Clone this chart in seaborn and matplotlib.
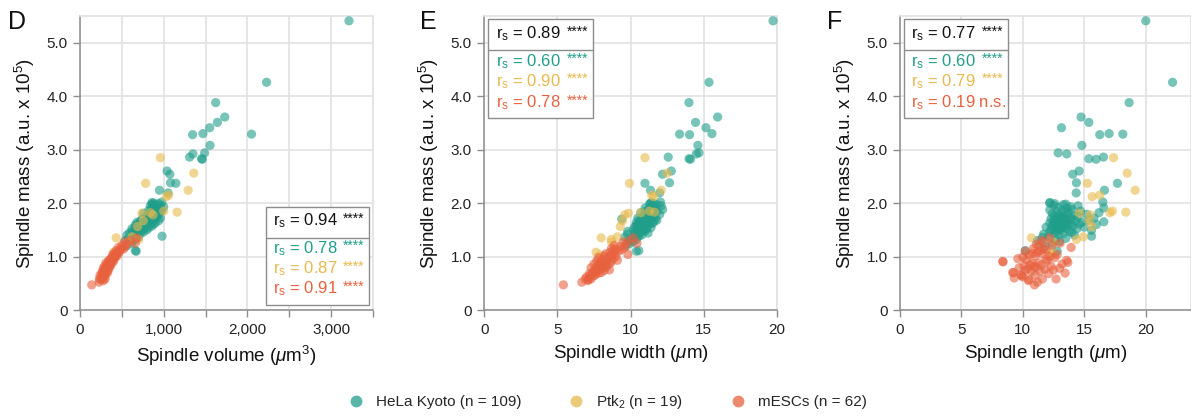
#!/usr/bin/env python3

import pandas
import seaborn as sns
import matplotlib.pyplot as plt
from matplotlib.patches import Rectangle
from matplotlib.lines import Line2D
from matplotlib.ticker import MultipleLocator, FuncFormatter

sns.set_style("ticks")
plt.rcParams["font.family"] = ["Liberation Sans", "DejaVu Sans"]
plt.rcParams["mathtext.fontset"] = "custom"
plt.rcParams["mathtext.rm"] = "Liberation Sans"
plt.rcParams["mathtext.it"] = "Liberation Sans:italic"

# HeLa Kyoto (n = 109): mass (a.u. x 10^5), volume (um^3), width (um), length (um)
hela_mass = [
    5.41, 4.26, 3.88, 3.61, 3.51, 3.41, 3.30, 3.29, 3.28, 3.08,
    2.94, 2.92, 2.86, 2.83, 2.82, 2.60, 2.54, 2.38, 2.37, 2.24,
    2.19, 2.02, 2.01, 1.38, 1.11, 1.10,
    1.20, 1.25, 1.28, 1.30, 1.32, 1.34, 1.36, 1.38, 1.40, 1.41,
    1.42, 1.43, 1.44, 1.45, 1.46, 1.47, 1.48, 1.49, 1.50, 1.50,
    1.51, 1.52, 1.52, 1.53, 1.54, 1.55, 1.55, 1.56, 1.57, 1.57,
    1.58, 1.58, 1.59, 1.60, 1.60, 1.61, 1.61, 1.62, 1.62, 1.63,
    1.63, 1.64, 1.64, 1.65, 1.65, 1.66, 1.67, 1.67, 1.68, 1.68,
    1.69, 1.70, 1.70, 1.71, 1.72, 1.72, 1.73, 1.74, 1.75, 1.75,
    1.76, 1.77, 1.78, 1.79, 1.80, 1.81, 1.82, 1.83, 1.84, 1.85,
    1.86, 1.87, 1.88, 1.90, 1.91, 1.92, 1.93, 1.95, 1.96, 1.97,
    1.98, 1.99, 2.00,
]
hela_volume = [
    3213, 2229, 1621, 1729, 1641, 1549, 1469, 2049, 1345, 1553,
    1489, 1349, 1309, 1453, 1460, 1040, 1073, 1081, 1145, 949,
    1052, 977, 860, 980, 661, 672,
    560, 620, 600, 540, 650, 580, 700, 620, 560, 680,
    640, 720, 590, 680, 760, 620, 700, 740, 660, 800,
    700, 620, 760, 680, 820, 740, 660, 780, 700, 860,
    720, 800, 660, 760, 840, 700, 880, 780, 740, 820,
    900, 760, 680, 840, 800, 720, 860, 940, 780, 820,
    880, 740, 800, 900, 840, 960, 780, 860, 820, 920,
    880, 800, 940, 860, 900, 760, 840, 960, 880, 920,
    820, 980, 900, 860, 940, 880, 1000, 840, 960, 900,
    860, 940, 880,
]
hela_width = [
    19.75, 15.37, 14.0, 15.96, 14.45, 15.16, 15.57, 13.36, 14.04, 14.61,
    14.68, 14.5, 12.58, 14.0, 14.1, 12.79, 12.19, 12.67, 10.99, 11.37,
    11.99, 12.05, 11.4, 10.5, 10.57, 10.4,
    9.7, 10.0, 10.2, 9.9, 10.4, 10.1, 9.6, 10.6, 10.3, 10.8,
    9.8, 10.5, 11.2, 10.3, 10.7, 9.8, 11.0, 10.4, 10.9, 10.6,
    10.2, 11.1, 10.5, 10.8, 11.4, 10.6, 10.9, 10.3, 11.0, 10.7,
    10.4, 11.2, 10.8, 10.5, 11.0, 10.9, 11.3, 10.6, 11.5, 10.7,
    10.8, 11.1, 10.4, 11.0, 11.6, 10.7, 11.2, 10.9, 11.8, 10.6,
    11.3, 10.8, 9.4, 11.7, 10.5, 11.4, 11.1, 10.9, 11.6, 11.2,
    11.5, 10.9, 11.3, 12.0, 11.1, 11.6, 10.7, 11.4, 11.8, 11.0,
    11.2, 11.6, 12.2, 11.3, 11.0, 11.7, 11.4, 12.1, 11.5, 11.8,
    11.3, 11.6, 11.4,
]
hela_length = [
    20.02, 22.2, 18.66, 14.75, 15.38, 13.15, 17.03, 18.15, 16.27, 14.81,
    12.88, 13.58, 16.57, 15.38, 15.97, 14.59, 14.07, 14.37, 17.71, 16.65,
    14.35, 16.52, 12.2, 15.6, 10.2, 12.8,
    11.8, 12.4, 13.0, 11.2, 12.7, 13.5, 11.6, 12.1, 14.2, 12.9,
    11.7, 13.3, 12.6, 14.0, 12.2, 13.8, 12.8, 15.6, 13.1, 12.5,
    12.3, 13.6, 14.4, 12.9, 13.2, 11.9, 15.0, 13.4, 12.7, 14.1,
    13.0, 12.4, 13.7, 16.0, 12.8, 13.3, 14.6, 12.6, 13.9, 13.1,
    12.2, 14.8, 13.5, 12.9, 16.6, 13.2, 12.5, 14.3, 13.6, 15.4,
    12.7, 13.4, 14.0, 12.3, 15.8, 13.1, 13.8, 12.9, 14.5, 13.3,
    12.6, 14.2, 13.0, 15.2, 12.4, 13.7, 16.2, 13.5, 12.8, 14.7,
    13.2, 12.2, 14.0, 13.6, 16.6, 12.9, 13.9, 14.5, 12.5, 13.3,
    13.5, 12.6, 12.2,
]

# Ptk2 (n = 19)
ptk_mass = [2.85, 2.56, 2.37, 2.24, 2.15, 2.12, 1.85, 1.83, 1.82, 1.81,
            1.78, 1.67, 1.56, 1.37, 1.35, 1.32, 1.27, 1.08, 1.03]
ptk_volume = [960, 1360, 784, 1292, 1060, 1032, 1000, 1160, 840, 740,
              872, 756, 688, 620, 432, 700, 580, 400, 420]
ptk_width = [10.99, 12.5, 9.93, 12.1, 11.46, 11.58, 11.3, 11.64, 10.71, 9.86,
             9.6, 9.45, 9.3, 9.1, 7.99, 8.68, 8.7, 7.65, 7.9]
ptk_length = [17.39, 18.5, 15.26, 19.15, 16.27, 15.65, 17.3, 18.39, 17.1, 14.61,
              15.5, 15.4, 15.6, 14.94, 10.7, 14.37, 12.5, 12.3, 12.4]

# mESCs (n = 62)
mesc_mass = [
    0.47, 0.52, 0.55, 0.57, 0.58, 0.58, 0.60, 0.62, 0.64, 0.65,
    0.66, 0.68, 0.69, 0.70, 0.70, 0.72, 0.73, 0.74, 0.75, 0.76,
    0.77, 0.78, 0.79, 0.80, 0.81, 0.82, 0.83, 0.84, 0.85, 0.86,
    0.87, 0.88, 0.89, 0.90, 0.91, 0.92, 0.93, 0.94, 0.95, 0.96,
    0.98, 0.99, 1.00, 1.01, 1.03, 1.04, 1.05, 1.06, 1.08, 1.10,
    1.11, 1.13, 1.14, 1.15, 1.17, 1.19, 1.21, 1.23, 1.25, 1.27,
    1.30, 1.35,
]
mesc_volume = [
    140, 228, 280, 250, 300, 230, 270, 260, 300, 240,
    280, 310, 260, 290, 330, 300, 270, 320, 340, 290,
    310, 330, 280, 350, 320, 360, 300, 340, 370, 330,
    360, 310, 380, 350, 400, 340, 370, 390, 360, 410,
    380, 420, 400, 440, 390, 430, 460, 410, 450, 470,
    430, 480, 520, 500, 460, 540, 500, 560, 660, 530,
    600, 680,
]
mesc_width = [
    5.41, 6.67, 7.08, 7.10, 7.3, 6.9, 7.2, 7.0, 7.5, 7.3,
    7.6, 7.2, 7.8, 7.4, 8.0, 7.5, 7.7, 8.2, 8.56, 7.6,
    7.9, 8.1, 7.3, 8.3, 7.7, 8.0, 8.4, 7.8, 8.2, 7.5,
    8.6, 7.9, 8.3, 8.0, 8.7, 7.7, 9.1, 8.4, 8.1, 8.8,
    7.8, 8.5, 9.0, 8.2, 8.7, 9.82, 8.3, 8.9, 8.6, 9.2,
    8.8, 9.4, 9.0, 8.7, 9.6, 9.3, 8.9, 9.7, 10.44, 9.5,
    9.9, 10.2,
]
mesc_length = [
    10.95, 11.2, 10.46, 10.5, 12.71, 11.6, 9.3, 10.0, 9.9, 11.0,
    9.86, 12.1, 13.45, 9.24, 9.18, 10.7, 11.4, 10.2, 12.5, 11.8,
    10.4, 13.0, 9.7, 11.1, 10.9, 12.3, 10.1, 11.5, 10.6, 13.2,
    10.8, 11.3, 13.67, 8.39, 8.37, 12.0, 13.58, 10.3, 11.9, 9.6,
    12.6, 10.0, 12.2, 11.0, 10.5, 12.8, 11.6, 10.8, 11.2, 10.2,
    11.4, 11.9, 11.7, 10.87, 13.94, 11.3, 12.4, 11.1, 13.04, 11.7,
    11.5, 12.2,
]

groups = ["HeLa Kyoto", "Ptk2", "mESCs"]
legend_labels = ["HeLa Kyoto (n = 109)", "Ptk$_2$ (n = 19)", "mESCs (n = 62)"]
colors = {"HeLa Kyoto": "#1f9e8a", "Ptk2": "#e8b94c", "mESCs": "#e8613f"}

# Spearman r per panel (D, E, F)
panel_letters = ["D", "E", "F"]
rs_all = [0.94, 0.89, 0.77]
rs_hela = [0.78, 0.60, 0.60]
rs_ptk = [0.87, 0.90, 0.79]
rs_mesc = [0.91, 0.78, 0.19]
sig_mesc = ["****", "****", "n.s."]


def build_frame():
    rows = []
    for name, mass, vol, wid, length in [
        ("HeLa Kyoto", hela_mass, hela_volume, hela_width, hela_length),
        ("Ptk2", ptk_mass, ptk_volume, ptk_width, ptk_length),
        ("mESCs", mesc_mass, mesc_volume, mesc_width, mesc_length),
    ]:
        for m, v, w, l in zip(mass, vol, wid, length):
            rows.append([name, m, v, w, l])
    return pandas.DataFrame(rows, columns=["group", "mass", "volume", "width", "length"])


def stats_box(ax, i, x0, x1, top, divider, bottom, rows_y):
    ax.add_patch(Rectangle((x0, bottom), x1 - x0, top - bottom, transform=ax.transAxes,
                           facecolor="white", edgecolor="#8c8c8c", lw=1, zorder=5))
    ax.plot([x0, x1], [divider, divider], transform=ax.transAxes, color="#8c8c8c",
            lw=1, zorder=6)
    entries = [
        ("#111111", rs_all[i], "****"),
        (colors["HeLa Kyoto"], rs_hela[i], "****"),
        (colors["Ptk2"], rs_ptk[i], "****"),
        (colors["mESCs"], rs_mesc[i], sig_mesc[i]),
    ]
    for (col, r, sig), y in zip(entries, rows_y):
        if sig == "****":
            ax.text(x0 + 0.025, y, "r$_\\mathrm{s}$ = %.2f" % r, transform=ax.transAxes,
                    color=col, fontsize=12, va="center", ha="left", zorder=7)
            ax.text(x1 - 0.015, y + 0.008, sig, transform=ax.transAxes, color=col,
                    fontsize=10, va="center", ha="right", zorder=7)
        else:
            ax.text(x0 + 0.025, y, "r$_\\mathrm{s}$ = %.2f %s" % (r, sig),
                    transform=ax.transAxes, color=col, fontsize=12, va="center",
                    ha="left", zorder=7)


def main():
    df = build_frame()
    fig = plt.figure(figsize=(11.91, 4.17), dpi=100)
    W, H = 1191.0, 417.0
    bottom, height = (417 - 310) / H, 294 / H
    lefts = [80 / W, 484.3 / W, 900 / W]
    widths = [293 / W, 292.4 / W, 291 / W]
    xcols = ["volume", "width", "length"]
    xlabels = ["Spindle volume ($\\mathit{\\mu}$m$^3$)", "Spindle width ($\\mathit{\\mu}$m)",
               "Spindle length ($\\mathit{\\mu}$m)"]
    xlims = [(0, 3500), (0, 20), (0, 23.7)]
    xsteps = [500, 5, 5]
    letter_x = [8, 420, 827]

    for i in range(3):
        ax = fig.add_axes([lefts[i], bottom, widths[i], height])
        ax.set_axisbelow(True)
        ax.grid(True, color="#e2e2e2", lw=1.2)
        sns.scatterplot(data=df, x=xcols[i], y="mass", hue="group", hue_order=groups,
                        palette=colors, s=44, alpha=0.6, linewidth=0, legend=False,
                        ax=ax, zorder=3, clip_on=False)
        ax.set_xlim(*xlims[i])
        ax.set_ylim(0, 5.5)
        ax.xaxis.set_major_locator(MultipleLocator(xsteps[i]))
        ax.yaxis.set_major_locator(MultipleLocator(1.0))
        if i == 0:
            ax.xaxis.set_major_formatter(FuncFormatter(
                lambda v, p: ("0" if v == 0 else f"{int(v):,}") if v % 1000 == 0 else ""))
        else:
            ax.xaxis.set_major_formatter(FuncFormatter(lambda v, p: f"{int(v)}"))
        ax.yaxis.set_major_formatter(FuncFormatter(lambda v, p: "0" if v == 0 else f"{v:.1f}"))
        ax.tick_params(direction="out", length=5, width=1, color="#8c8c8c",
                       labelsize=11, labelcolor="#222222", pad=4)
        for side in ["left", "bottom"]:
            ax.spines[side].set_color("#8c8c8c")
            ax.spines[side].set_linewidth(1.1)
        for side in ["top", "right"]:
            ax.spines[side].set_color("#e2e2e2")
            ax.spines[side].set_linewidth(1.2)
        ax.set_xlabel(xlabels[i], fontsize=13.5, color="#111111", labelpad=5)
        ax.set_ylabel("Spindle mass (a.u. x 10$^5$)", fontsize=13.5, color="#111111",
                      labelpad=7)
        fig.text(letter_x[i] / W, 1 - 29 / H, panel_letters[i], fontsize=18, color="#111111",
                 ha="left", va="baseline")

        if i == 0:
            stats_box(ax, i, 0.634, 0.987, 0.351, 0.246, 0.018, [0.303, 0.21, 0.139, 0.072])
        else:
            stats_box(ax, i, 0.014, 0.371, 0.989, 0.884, 0.654, [0.939, 0.845, 0.777, 0.705])

    handles = [Line2D([], [], marker="o", linestyle="", markersize=8.5,
                      markerfacecolor=colors[g], markeredgewidth=0, alpha=0.75)
               for g in groups]
    fig.legend(handles, legend_labels, loc="center", bbox_to_anchor=(0.507, 1 - 402 / H),
               ncol=3, frameon=False, fontsize=11, columnspacing=2.6, handletextpad=0.3)
    fig.savefig("out.png", dpi=100)


if __name__ == "__main__":
    main()
